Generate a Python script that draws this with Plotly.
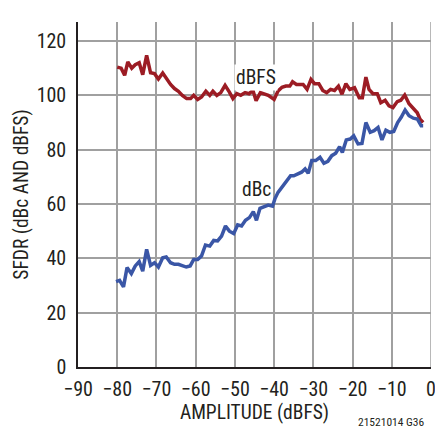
import plotly.graph_objects as go

dbfs_x = [-80, -79, -78.1, -77.3, -76.3, -75.4, -74.4, -73.5, -72.5, -71.5, -70.5, -69.5, -68.4, -67.4,
          -66.4, -65.4, -64.4, -63.4, -62.3, -61.3, -60.5, -59.5, -58.5, -57.4, -56.4, -55.6, -54.6,
          -53.6, -52.5, -51.4, -50.5, -49.5, -48.5, -47.4, -46.4, -45.4, -44.6, -43.5, -42.5, -41.5,
          -40, -39, -38, -37, -36, -35.3, -34.3, -33.5, -32.6, -31.6, -30.6, -29.7, -28.6, -27.6,
          -26.6, -25.6, -24.6, -23.6, -22.7, -21.7, -20.7, -19.5, -18.3, -17.5, -16.6, -15.8, -14.8,
          -13.7, -12.8, -11.7, -10.7, -9.7, -8.6, -7.7, -6.7, -5.6, -4.5, -3.5, -2.8, -2]
dbfs_y = [110.4, 110, 107.4, 112.3, 110, 111.3, 112, 107.6, 114.7, 108.3, 108, 106, 108.2, 106,
          104, 102.5, 101.5, 100, 98.8, 98.8, 100, 98.5, 99.4, 101.5, 100, 101.5, 100,
          101, 103.7, 101.2, 98.8, 100.6, 100, 101, 100.6, 101.8, 98, 101, 100.6, 100,
          98.5, 101.6, 103, 103.4, 103.4, 105, 104, 104, 104, 102.2, 105.9, 104.3, 104.3, 101.8,
          101, 102.2, 101.8, 103.4, 100.4, 104.3, 102.2, 102.8, 99.1, 99.1, 106.7, 102.2, 100.6,
          100.6, 97.3, 98.2, 96.1, 95.5, 97.7, 98.2, 100.1, 96.9, 95.2, 93.6, 91.2, 90]

dbc_x = [-80.3, -79.4, -78.4, -77.5, -76.4, -75.4, -74.4, -73.5, -72.5, -71.5, -70.5, -69.5, -68.4,
         -67.5, -66.4, -65.4, -64.4, -63.4, -62.4, -61.4, -60.5, -59.5, -58.5, -57.5, -56.4, -55.4,
         -54.4, -53.4, -52.4, -51.4, -50.3, -49.3, -48.3, -47.3, -46.3, -45.3, -44.5, -43.6, -42.5,
         -41.5, -40.4, -39.8, -39, -38, -36.9, -35.8, -35, -34, -33, -32.1, -31.3, -30.4, -29.4,
         -28.3, -27.3, -26.3, -25.3, -24.3, -23.3, -22.6, -21.6, -20.6, -19.7, -18.6, -17.6, -16.6,
         -15.5, -14.5, -13.5, -12.5, -11.5, -10.5, -9.5, -8.5, -7.6, -6.6, -5.6, -4.5, -3.5, -2.5, -2]
dbc_y = [31.4, 31.9, 29.5, 36.6, 34.4, 37.2, 38.8, 35.3, 43.3, 37.4, 38.4, 36.8, 40.2,
         40.5, 38.4, 37.8, 37.8, 37.2, 36.8, 37.2, 39.6, 39.6, 40.9, 44.9, 44.5, 46.6,
         46.4, 48.2, 51.9, 50, 49.1, 52.3, 51.9, 54, 55, 57.2, 54, 58.4, 58.9,
         59.6, 59.2, 61.9, 64.3, 66.2, 68, 70.4, 70.4, 71, 71.7, 72.9, 71.3, 76, 76,
         77.2, 75, 75.7, 77.8, 78.7, 81.1, 79, 83.6, 83.9, 85.1, 82.1, 82.3, 90,
         86.4, 87, 88.2, 83.6, 87.2, 86.4, 86.7, 90, 91.9, 94.6, 92.5, 91.6, 91.3, 88.8, 88.8]

x_ticks = [-90, -80, -70, -60, -50, -40, -30, -20, -10, 0]
x_labels = ["\u221290", "\u221280", "\u221270", "\u221260", "\u221250", "\u221240", "\u221230", "\u221220", "\u221210", "0"]
y_ticks = [0, 20, 40, 60, 80, 100, 120]

FONT = "Liberation Sans Narrow, Arial Narrow, Roboto Condensed, sans-serif"
RED = "#9C1C24"
BLUE = "#3A56A6"
GRID = "#A0A0A0"

fig = go.Figure()
fig.add_trace(go.Scatter(x=dbfs_x, y=dbfs_y, mode="lines", line=dict(color=RED, width=3.5), showlegend=False))
fig.add_trace(go.Scatter(x=dbc_x, y=dbc_y, mode="lines", line=dict(color=BLUE, width=3.5), showlegend=False))

fig.update_layout(
    width=435, height=428,
    margin=dict(l=78, r=4, t=22, b=61, autoexpand=False),
    paper_bgcolor="white", plot_bgcolor="white",
    font=dict(family=FONT, size=20, color="#231F20"),
    xaxis=dict(range=[-90, 0], tickvals=x_ticks, ticktext=x_labels, showgrid=True,
               gridcolor=GRID, gridwidth=1.5, zeroline=False, showline=True,
               linecolor="#231F20", linewidth=1.5, ticks="", ticklabelstandoff=3,
               automargin=False, ticklabeloverflow="allow",
               title=dict(text="AMPLITUDE (dBFS)", font=dict(size=19.5), standoff=6)),
    yaxis=dict(range=[0, 127], tickvals=y_ticks, showgrid=True,
               gridcolor=GRID, gridwidth=1.5, zeroline=False, showline=True,
               linecolor="#231F20", linewidth=1.5, ticks="", ticklabelstandoff=6,
               automargin=False, ticklabeloverflow="allow",
               title=dict(text="SFDR (dBc AND dBFS)", font=dict(size=19.5), standoff=3)),
)

fig.add_shape(type="line", xref="x", yref="paper", x0=x_ticks[-1], x1=x_ticks[-1], y0=0, y1=1,
              line=dict(color=GRID, width=1.5), layer="below")

fig.add_annotation(x=-44.5, y=106.5, text="dBFS", showarrow=False, bgcolor="white",
                   font=dict(size=19.5), borderpad=1)
fig.add_annotation(x=-44.5, y=65.2, text="dBc", showarrow=False, bgcolor="white",
                   font=dict(size=19.5), borderpad=0)
fig.add_annotation(x=1, y=0, xref="paper", yref="paper", xanchor="right", yanchor="top",
                   yshift=-46, xshift=-4, text="21521014 G36", showarrow=False,
                   font=dict(size=11.5))

fig.write_html("out.html", config={"displayModeBar": False},
               post_script="document.body.style.margin='0';document.body.style.padding='0';")
